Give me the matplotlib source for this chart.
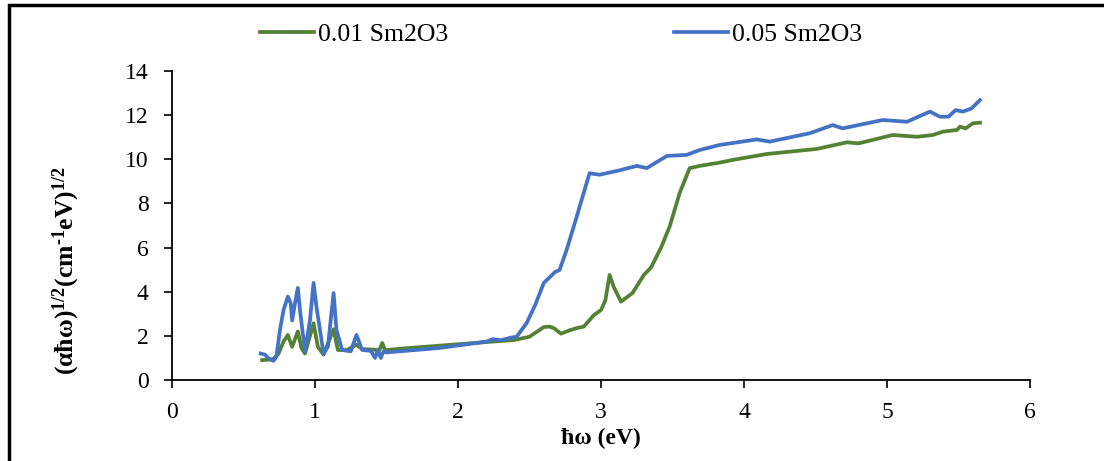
import matplotlib.pyplot as plt
from matplotlib.patches import Rectangle

# photon energy (eV) and (alpha h omega)^1/2
x_01 = [0.63, 0.67, 0.71, 0.745, 0.78, 0.81, 0.84, 0.88, 0.905, 0.93, 0.99, 1.02, 1.06,
        1.13, 1.16, 1.22, 1.29, 1.33, 1.40, 1.45, 1.47, 1.49, 1.60, 1.80, 2.00, 2.20, 2.39,
        2.50, 2.60, 2.64, 2.67, 2.72, 2.78, 2.83, 2.88, 2.95, 3.00, 3.03, 3.06, 3.09, 3.14,
        3.22, 3.30, 3.35, 3.42, 3.48, 3.55, 3.62, 3.69, 3.83, 3.92, 4.16, 4.51, 4.72, 4.80,
        5.04, 5.21, 5.32, 5.39, 5.49, 5.51, 5.55, 5.60, 5.65]
y_01 = [0.9, 0.92, 0.95, 1.2, 1.74, 2.04, 1.5, 2.2, 1.45, 1.2, 2.57, 1.5, 1.15,
        2.3, 1.36, 1.35, 1.6, 1.4, 1.38, 1.35, 1.68, 1.35, 1.42, 1.52, 1.62, 1.72, 1.81,
        1.96, 2.4, 2.42, 2.35, 2.1, 2.25, 2.35, 2.42, 2.94, 3.17, 3.6, 4.76, 4.2, 3.55,
        3.94, 4.76, 5.1, 6.0, 6.95, 8.47, 9.6, 9.7, 9.85, 9.97, 10.24, 10.47, 10.77, 10.72,
        11.1, 11.02, 11.1, 11.25, 11.33, 11.48, 11.4, 11.63, 11.66]

x_05 = [0.62, 0.65, 0.68, 0.71, 0.73, 0.755, 0.78, 0.81, 0.83, 0.84, 0.86, 0.88, 0.895,
        0.93, 0.965, 0.99, 1.01, 1.06, 1.09, 1.13, 1.15, 1.19, 1.25, 1.29, 1.33, 1.39,
        1.42, 1.44, 1.46, 1.48, 1.50, 1.87, 2.20, 2.24, 2.30, 2.37, 2.41, 2.48, 2.54, 2.60,
        2.68, 2.71, 2.76, 2.83, 2.92, 2.99, 3.13, 3.25, 3.32, 3.46, 3.60, 3.69, 3.83, 4.09,
        4.18, 4.46, 4.62, 4.69, 4.97, 5.14, 5.30, 5.37, 5.43, 5.48, 5.53, 5.59, 5.65]
y_05 = [1.2, 1.15, 0.95, 0.87, 1.06, 2.27, 3.17, 3.78, 3.48, 2.7, 3.48, 4.17, 3.17,
        1.28, 2.72, 4.4, 3.32, 1.2, 1.5, 3.94, 2.27, 1.36, 1.3, 2.04, 1.36, 1.32,
        1.0, 1.35, 1.0, 1.3, 1.25, 1.45, 1.74, 1.85, 1.8, 1.92, 1.96, 2.58, 3.4, 4.4,
        4.9, 4.98, 5.9, 7.4, 9.37, 9.3, 9.5, 9.7, 9.6, 10.15, 10.2, 10.42, 10.65, 10.9,
        10.8, 11.18, 11.55, 11.4, 11.78, 11.7, 12.16, 11.93, 11.93, 12.23, 12.16, 12.3, 12.68]

labels = ["0.01 Sm2O3", "0.05 Sm2O3"]

plt.rcParams['font.family'] = ['Liberation Serif', 'DejaVu Serif']
plt.rcParams['mathtext.fontset'] = 'custom'
plt.rcParams['mathtext.rm'] = 'Liberation Serif:bold'
plt.rcParams['mathtext.bf'] = 'Liberation Serif:bold'
plt.rcParams['mathtext.it'] = 'Liberation Serif:bold:italic'

fig = plt.figure(figsize=(11.04, 4.61), dpi=100)
ax = fig.add_axes([172 / 1104, 1 - 380 / 461, (1030 - 172) / 1104, (380 - 71) / 461])

ax.plot(x_01, y_01, color='#548235', lw=2.7, label=labels[0], solid_joinstyle='round')
ax.plot(x_05, y_05, color='#4472C4', lw=2.7, label=labels[1], solid_joinstyle='round')

ax.set_xlim(0, 6)
ax.set_ylim(0, 14)
ax.set_xticks(range(0, 7))
ax.set_yticks(range(0, 15, 2))
ax.tick_params(labelsize=17, length=6, width=1.2, direction='out')
ax.tick_params(axis='y', pad=11)
ax.tick_params(axis='x', pad=10)
for s in ['top', 'right']:
    ax.spines[s].set_visible(False)
for s in ['left', 'bottom']:
    ax.spines[s].set_linewidth(1.3)

ax.set_xlabel('ħω (eV)', fontsize=17, fontweight='bold', labelpad=0)
ax.xaxis.set_label_coords((601 - 172) / 858, -(428 - 380) / 309)
ax.set_ylabel(r'$\mathrm{(αħω)^{1/2}(cm^{‐1}eV)^{1/2}}$', fontsize=18.5)
ax.yaxis.set_label_coords((82 - 172) / 858, (380 - 271) / 309)

fig.legend(loc='center left', bbox_to_anchor=(260 / 1104, 1 - 35 / 461), ncol=2,
           frameon=False, fontsize=18.5, handlelength=2.1, handletextpad=0.15,
           columnspacing=8.8, borderpad=0, borderaxespad=0)

fig.patches.append(Rectangle((9 / 1104, -0.2), 1.3, 1.2 - 5 / 461, transform=fig.transFigure,
                             fill=False, lw=2.5, edgecolor='black', clip_on=False))

plt.savefig('out.png', dpi=100)
